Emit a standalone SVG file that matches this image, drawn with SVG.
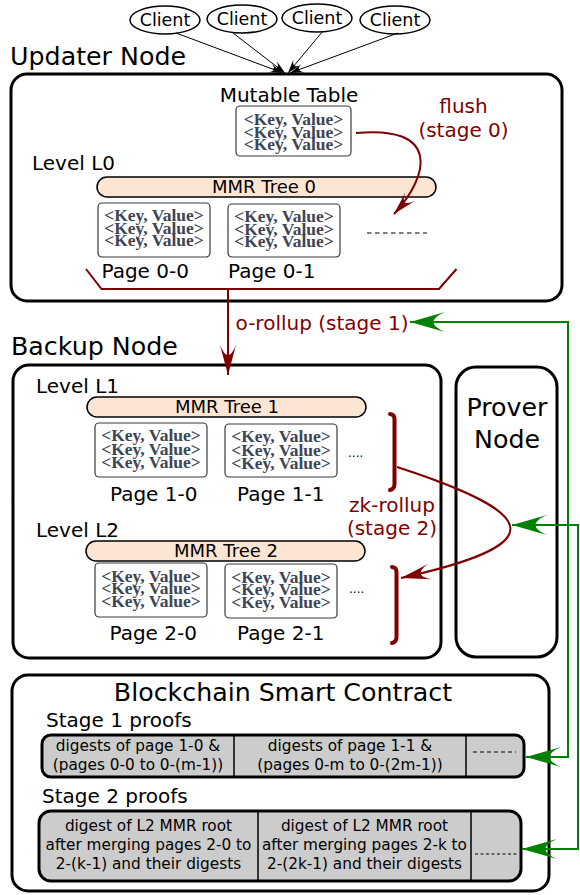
<svg xmlns="http://www.w3.org/2000/svg" width="580" height="895" viewBox="0 0 580 895">
  <style>
    text { font-family: "DejaVu Sans", "Noto Sans", sans-serif; fill: #000; }
    .title { font-size: 25.3px; }
    .lbl { font-size: 20px; }
    .mid { text-anchor: middle; }
    .client { font-size: 17.5px; text-anchor: middle; }
    .mmr { font-size: 18px; text-anchor: middle; }
    .kv { font-family: "Liberation Serif", "DejaVu Serif", serif; font-weight: bold; font-size: 17.5px; fill: #3e4554; text-anchor: middle; }
    .redtxt { fill: #800000; font-size: 20px; text-anchor: middle; }
    .proof-txt { font-size: 15.3px; text-anchor: middle; }
    .frame { fill: #fff; stroke: #000; stroke-width: 3; }
    .kvbox { fill: #fff; stroke: #3a3a3a; stroke-width: 1.2; }
    .pill { fill: #fde5d4; stroke: #000; stroke-width: 1.5; }
    .proof { fill: #cccccc; stroke: #000; stroke-width: 3; }
    .div { stroke: #000; stroke-width: 1.5; }
    .dash { stroke: #000; stroke-width: 1.2; stroke-dasharray: 4 3; }
    .ell { fill: #fff; stroke: #000; stroke-width: 1.5; }
    .red { fill: none; stroke: #800000; stroke-width: 2; }
    .brace { fill: none; stroke: #800000; stroke-width: 4; stroke-linecap: round; }
    .green { fill: none; stroke: #008000; stroke-width: 2; }
    .blk { fill: none; stroke: #000; stroke-width: 1; }
  </style>
  <defs>
    <marker id="ah-black" viewBox="-14 -5 14 10" refX="0" refY="0" markerWidth="14" markerHeight="10" markerUnits="userSpaceOnUse" orient="auto">
      <path d="M0,0 L-14,-4.5 Q-5,0 -14,4.5 Z" fill="#000"/>
    </marker>
    <marker id="ah-red" viewBox="-30 -8 30 16" refX="0" refY="0" markerWidth="30" markerHeight="16" markerUnits="userSpaceOnUse" orient="auto">
      <path d="M0,0 L-30,-8 Q-10,0 -30,8 Z" fill="#800000"/>
    </marker>
    <marker id="ah-red-s" viewBox="-24 -7 24 14" refX="0" refY="0" markerWidth="24" markerHeight="14" markerUnits="userSpaceOnUse" orient="auto">
      <path d="M0,0 L-24,-6.5 Q-8,0 -24,6.5 Z" fill="#800000"/>
    </marker>
    <marker id="ah-green" viewBox="-35 -10.5 35 21" refX="0" refY="0" markerWidth="35" markerHeight="21" markerUnits="userSpaceOnUse" orient="auto-start-reverse">
      <path d="M0,0 L-35,-10 Q-12,0 -35,10 Z" fill="#008000"/>
    </marker>
  </defs>

  <!-- clients -->
  <g id="client-1"><ellipse class="ell" cx="165" cy="20" rx="35" ry="14"/><text class="client" x="165" y="26">Client</text></g>
  <g id="client-2"><ellipse class="ell" cx="242" cy="19" rx="35" ry="14"/><text class="client" x="242" y="25">Client</text></g>
  <g id="client-3"><ellipse class="ell" cx="317" cy="18" rx="35" ry="14"/><text class="client" x="317" y="24">Client</text></g>
  <g id="client-4"><ellipse class="ell" cx="395" cy="20" rx="35" ry="14"/><text class="client" x="395" y="26">Client</text></g>

  <!-- updater node -->
  <g id="updater-node">
    <text class="title" x="10" y="65">Updater Node</text>
    <rect class="frame" x="11" y="74" width="551" height="227" rx="16"/>
    <text class="lbl mid" x="289" y="102">Mutable Table</text>
    <rect class="kvbox" x="236" y="106" width="115" height="50" rx="4"/>
    <text class="kv" x="293.5" y="125">&lt;Key, Value&gt;</text>
    <text class="kv" x="293.5" y="137.5">&lt;Key, Value&gt;</text>
    <text class="kv" x="293.5" y="150">&lt;Key, Value&gt;</text>
    <text class="lbl" x="32" y="170">Level L0</text>
    <rect class="pill" x="97" y="177" width="339" height="20" rx="10"/>
    <text class="mmr" x="264" y="193">MMR Tree 0</text>
    <g id="page-0-0">
      <rect class="kvbox" x="98" y="203" width="112" height="54" rx="4"/>
      <text class="kv" x="154" y="221">&lt;Key, Value&gt;</text>
      <text class="kv" x="154" y="233.5">&lt;Key, Value&gt;</text>
      <text class="kv" x="154" y="246">&lt;Key, Value&gt;</text>
      <text class="lbl" x="101.5" y="278">Page 0-0</text>
    </g>
    <g id="page-0-1">
      <rect class="kvbox" x="228" y="204" width="112" height="53" rx="4"/>
      <text class="kv" x="284" y="222">&lt;Key, Value&gt;</text>
      <text class="kv" x="284" y="234.5">&lt;Key, Value&gt;</text>
      <text class="kv" x="284" y="247">&lt;Key, Value&gt;</text>
      <text class="lbl" x="228" y="278">Page 0-1</text>
    </g>
    <line class="dash" x1="367" y1="233" x2="427" y2="233" style="stroke-dasharray:4.5 3.5"/>
  </g>

  <!-- backup node -->
  <g id="backup-node">
    <text class="title" x="11" y="355">Backup Node</text>
    <rect class="frame" x="13" y="365" width="428" height="293" rx="16"/>
    <text class="lbl" x="36" y="392.5">Level L1</text>
    <rect class="pill" x="87" y="397" width="279" height="20" rx="10"/>
    <text class="mmr" x="227" y="413">MMR Tree 1</text>
    <g id="page-1-0">
      <rect class="kvbox" x="95" y="423" width="112" height="54" rx="4"/>
      <text class="kv" x="151" y="441">&lt;Key, Value&gt;</text>
      <text class="kv" x="151" y="455">&lt;Key, Value&gt;</text>
      <text class="kv" x="151" y="467.5">&lt;Key, Value&gt;</text>
      <text class="lbl" x="110" y="500.5">Page 1-0</text>
    </g>
    <g id="page-1-1">
      <rect class="kvbox" x="225" y="424" width="112" height="53" rx="4"/>
      <text class="kv" x="281" y="442">&lt;Key, Value&gt;</text>
      <text class="kv" x="281" y="456">&lt;Key, Value&gt;</text>
      <text class="kv" x="281" y="468.5">&lt;Key, Value&gt;</text>
      <text class="lbl" x="237" y="500.5">Page 1-1</text>
    </g>
    <text x="348" y="457" style="font-size:12px">....</text>
    <text class="lbl" x="36" y="537">Level L2</text>
    <rect class="pill" x="86" y="541" width="279" height="20" rx="10"/>
    <text class="mmr" x="226" y="556.5">MMR Tree 2</text>
    <g id="page-2-0">
      <rect class="kvbox" x="95" y="563" width="112" height="54" rx="4"/>
      <text class="kv" x="151" y="581.5">&lt;Key, Value&gt;</text>
      <text class="kv" x="151" y="594">&lt;Key, Value&gt;</text>
      <text class="kv" x="151" y="606.5">&lt;Key, Value&gt;</text>
      <text class="lbl" x="109.5" y="640">Page 2-0</text>
    </g>
    <g id="page-2-1">
      <rect class="kvbox" x="225" y="564" width="112" height="54" rx="4"/>
      <text class="kv" x="281" y="582.5">&lt;Key, Value&gt;</text>
      <text class="kv" x="281" y="595">&lt;Key, Value&gt;</text>
      <text class="kv" x="281" y="607.5">&lt;Key, Value&gt;</text>
      <text class="lbl" x="237" y="640">Page 2-1</text>
    </g>
    <text x="349" y="593" style="font-size:12px">....</text>
  </g>

  <!-- prover node -->
  <g id="prover-node">
    <rect class="frame" x="456" y="367" width="101" height="290" rx="20"/>
    <text class="title mid" x="507" y="416">Prover</text>
    <text class="title mid" x="507" y="448">Node</text>
  </g>

  <!-- smart contract -->
  <g id="smart-contract">
    <rect class="frame" x="12" y="675" width="537" height="216" rx="16"/>
    <text class="title mid" x="283" y="701">Blockchain Smart Contract</text>
    <text class="lbl" x="46" y="727">Stage 1 proofs</text>
    <g id="stage-1-proofs">
      <rect class="proof" x="42" y="735" width="482" height="42" rx="9"/>
      <line class="div" x1="234" y1="736" x2="234" y2="776"/>
      <line class="div" x1="466" y1="736" x2="466" y2="776"/>
      <text class="proof-txt" x="138" y="751">digests of page 1-0 &amp;</text>
      <text class="proof-txt" x="138" y="770">(pages 0-0 to 0-(m-1))</text>
      <text class="proof-txt" x="350" y="751">digests of page 1-1 &amp;</text>
      <text class="proof-txt" x="350" y="770">(pages 0-m to 0-(2m-1))</text>
      <line class="dash" x1="473" y1="752" x2="516" y2="752" style="stroke-dasharray:4 3"/>
    </g>
    <text class="lbl" x="42" y="803">Stage 2 proofs</text>
    <g id="stage-2-proofs">
      <rect class="proof" x="39" y="811" width="482" height="70" rx="12"/>
      <line class="div" x1="258" y1="812" x2="258" y2="880"/>
      <line class="div" x1="471" y1="812" x2="471" y2="880"/>
      <text class="proof-txt" x="148.5" y="831">digest of L2 MMR root</text>
      <text class="proof-txt" x="148.5" y="850">after merging pages 2-0 to</text>
      <text class="proof-txt" x="148.5" y="869">2-(k-1) and their digests</text>
      <text class="proof-txt" x="364.5" y="831">digest of L2 MMR root</text>
      <text class="proof-txt" x="364.5" y="850">after merging pages 2-k to</text>
      <text class="proof-txt" x="364.5" y="869">2-(2k-1) and their digests</text>
      <line class="dash" x1="475" y1="854" x2="517" y2="854" style="stroke-dasharray:3 2.5"/>
    </g>
  </g>

  <!-- connectors -->
  <g id="connectors">
    <line class="blk" x1="176" y1="33" x2="283" y2="73" marker-end="url(#ah-black)"/>
    <line class="blk" x1="233" y1="33" x2="285" y2="73" marker-end="url(#ah-black)"/>
    <line class="blk" x1="323" y1="31" x2="288" y2="73" marker-end="url(#ah-black)"/>
    <line class="blk" x1="398" y1="33" x2="290" y2="73" marker-end="url(#ah-black)"/>

    <!-- flush (stage 0) -->
    <path class="red" d="M356,133 C440,125 430,175 394,214" marker-end="url(#ah-red-s)"/>
    <text class="redtxt" x="463.5" y="113">flush</text>
    <text class="redtxt" x="463.5" y="137">(stage 0)</text>

    <!-- o-rollup (stage 1) -->
    <path class="red" d="M86,269 L101.5,289 L439,289 L456.5,269"/>
    <path class="red" d="M228,289 L228,375" marker-end="url(#ah-red)"/>
    <text class="redtxt" x="322" y="330">o-rollup (stage 1)</text>

    <!-- zk-rollup (stage 2) -->
    <path class="brace" d="M390,414 Q394.5,414.5 394.5,419 L394.5,484 Q394.5,489 390,490"/>
    <path class="brace" d="M392,567 Q396.5,567.5 396.5,572 L396.5,637 Q396.5,642 392,643"/>
    <path class="red" d="M397,467 C545,515 550,545 401,578" marker-end="url(#ah-red)"/>
    <text class="redtxt" x="392" y="511.5">zk-rollup</text>
    <text class="redtxt" x="392" y="535">(stage 2)</text>

    <!-- proof submissions -->
    <path class="green" d="M410,322 L568,322 L568,757 L526,757" marker-start="url(#ah-green)" marker-end="url(#ah-green)"/>
    <path class="green" d="M512,525 L578,525 L578,849 L522,849" marker-start="url(#ah-green)" marker-end="url(#ah-green)"/>
  </g>
</svg>
